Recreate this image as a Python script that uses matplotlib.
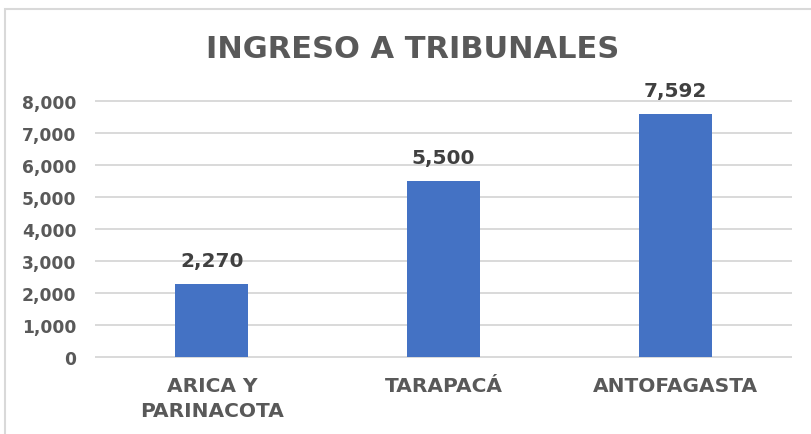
import matplotlib
matplotlib.use("Agg")
import matplotlib.pyplot as plt
import matplotlib.patches as patches

# datos
categorias = ["ARICA Y\nPARINACOTA", "TARAPACÁ", "ANTOFAGASTA"]
ingresos = [2270, 5500, 7592]
ticks_y = [0, 1000, 2000, 3000, 4000, 5000, 6000, 7000, 8000]

plt.rcParams['font.family'] = ['DejaVu Sans']

fig = plt.figure(figsize=(8.12, 4.35), dpi=100)
ax = fig.add_axes([96 / 812, 1 - 358 / 435, (791 - 96) / 812, (358 - 102) / 435])

# marco del grafico
borde = patches.Rectangle((5 / 812, -0.2), 1.2, 1.2 - 10 / 435,
                          transform=fig.transFigure, fill=False,
                          edgecolor='#D9D9D9', linewidth=1.5)
fig.patches.append(borde)

x = range(len(categorias))
barras = ax.bar(x, ingresos, width=0.315, color='#4472C4', zorder=3)

for b, v in zip(barras, ingresos):
    ax.annotate(f"{v:,}", (b.get_x() + b.get_width() / 2, v),
                xytext=(0, 10), textcoords='offset points',
                ha='center', va='bottom', fontsize=14.5,
                fontweight='bold', color='#404040')

ax.set_ylim(0, 8000)
ax.set_xlim(-0.5, 2.5)
ax.set_yticks(ticks_y)
ax.set_yticklabels([f"{t:,}" for t in ticks_y])
ax.set_xticks(list(x))
ax.set_xticklabels(categorias, linespacing=1.38)

ax.yaxis.grid(True, color='#D9D9D9', linewidth=1.4, zorder=0)
for g in ax.get_ygridlines():
    g.set_clip_on(False)
ax.set_axisbelow(True)
for s in ax.spines.values():
    s.set_visible(False)
ax.tick_params(axis='both', length=0)
ax.tick_params(axis='y', pad=14, labelsize=12.3, labelcolor='#595959')
ax.tick_params(axis='x', pad=14, labelsize=14.5, labelcolor='#595959')
for lbl in ax.get_xticklabels() + ax.get_yticklabels():
    lbl.set_fontweight('bold')

fig.text(413 / 812, 1 - 50 / 435, "INGRESO A TRIBUNALES", ha='center', va='center',
         fontsize=22, fontweight='bold', color='#595959')

fig.savefig('out.png', dpi=100)
